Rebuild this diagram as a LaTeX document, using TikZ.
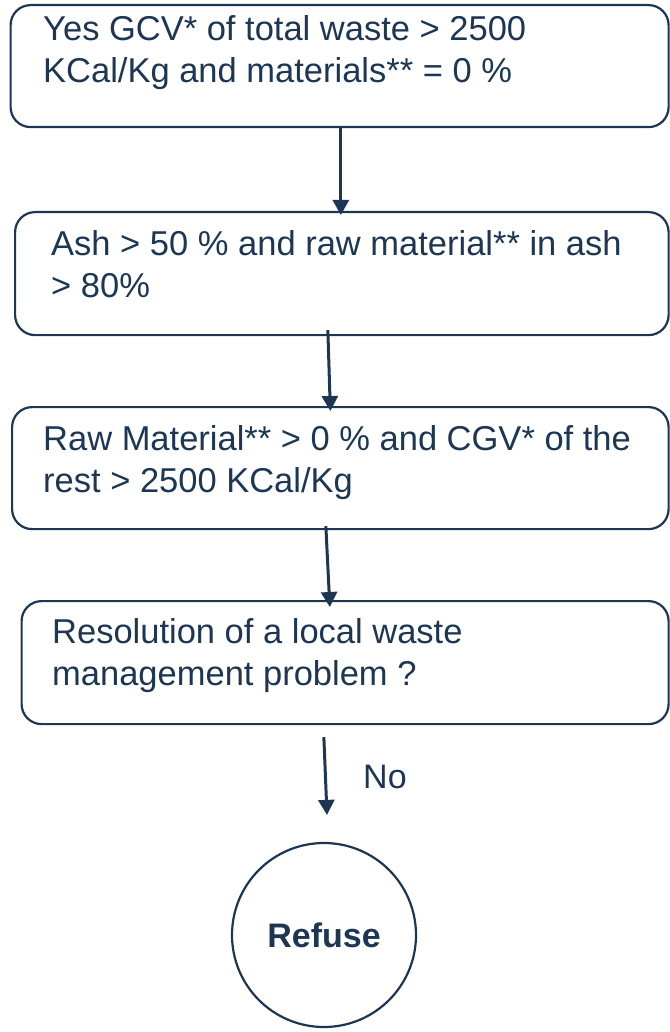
\documentclass[tikz,border=0pt]{standalone}
\usepackage{fontspec}
\setmainfont{Liberation Sans}
\usetikzlibrary{arrows.meta}
\definecolor{navy}{HTML}{1C3654}
\tikzset{
  qbox/.style={draw=navy, line width=2.2pt, rounded corners=20pt, inner sep=0pt,
    anchor=north west},
  qtext/.style={text=navy, inner sep=0pt, anchor=base west, align=left,
    font=\fontsize{34.5}{42}\selectfont},
  flow/.style={draw=navy, line width=3pt, -{Triangle[width=16pt,length=15pt]}}
}
\begin{document}
\begin{tikzpicture}[x=1pt,y=-1pt]
      \useasboundingbox (0,0) rectangle (669,1032);
      \draw
        (9.5,4) node[qbox, minimum width=658pt, minimum height=122pt] (q1){}
        (14,211) node[qbox, minimum width=653.5pt, minimum height=123pt] (q2){}
        (11,406) node[qbox, minimum width=656.5pt, minimum height=122pt] (q3){}
        (20.5,600) node[qbox, minimum width=647pt, minimum height=123pt] (q4){}
        (324,935) node[circle, draw=navy, line width=2.2pt, minimum size=184pt,
          text=navy, font=\fontsize{34}{42}\selectfont\bfseries] (refuse){Refuse};
      \draw
        (43,83) node[qtext] (q1text){Yes GCV* of total waste > 2500\\KCal/Kg and materials** = 0 \%}
        (51,297) node[qtext] (q2text){Ash > 50 \% and raw material** in ash\\> 80\%}
        (43,492) node[qtext] (q3text){Raw Material** > 0 \% and CGV* of the\\rest > 2500 KCal/Kg}
        (52,685) node[qtext] (q4text){Resolution of a local waste\\management problem ?};
      \coordinate (nostart) at ([xshift=-21.25pt,yshift=-12pt]q4.south);
      \begin{scope}[flow]
        \draw ([xshift=1.25pt]q1.south) to ([xshift=-1pt,yshift=-4pt]q2.north);
        \draw ([xshift=-14pt,yshift=6pt]q2.south) to ([xshift=-10pt,yshift=-5pt]q3.north);
        \draw ([xshift=-14.5pt,yshift=4pt]q3.south) to ([xshift=-15.25pt,yshift=-7pt]q4.north);
        \draw (nostart) to ([xshift=3pt,yshift=27pt]refuse.north);
      \end{scope}
      \node[text=navy, font=\fontsize{34}{42}\selectfont, anchor=base west, inner sep=0pt]
        (no) at (363,788) {No};
    \end{tikzpicture}
\end{document}
